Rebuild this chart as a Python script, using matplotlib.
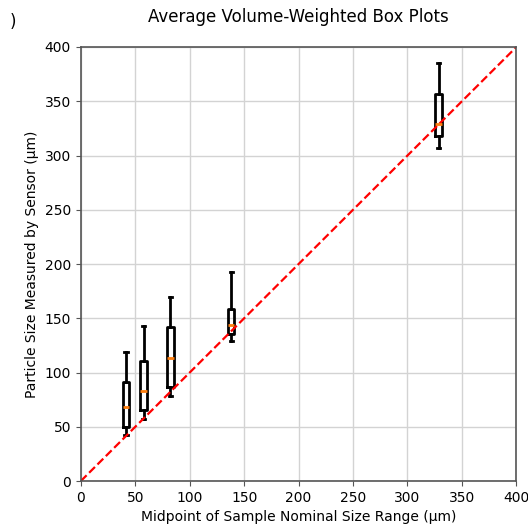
import numpy as np
import matplotlib.pyplot as plt

# midpoints of nominal size ranges (um) and box stats
midpoints = [41.4, 57.6, 82.2, 138.1, 328.7]
whislo = [42.4, 57.0, 78.7, 129.3, 307.0]
q1 = [50.0, 65.4, 87.0, 135.5, 318.0]
med = [68.5, 83.2, 113.0, 143.8, 329.0]
q3 = [91.0, 111.0, 142.2, 158.5, 356.7]
whishi = [119.0, 142.9, 169.3, 193.0, 385.0]

stats = []
for i in range(len(midpoints)):
    stats.append({'whislo': whislo[i], 'q1': q1[i], 'med': med[i],
                  'q3': q3[i], 'whishi': whishi[i], 'fliers': []})

fig = plt.figure(figsize=(5.28, 5.31), dpi=100)
ax = fig.add_axes([0.153, 0.094, 0.825, 0.8175])

ax.bxp(stats, positions=midpoints, widths=6, showfliers=False, manage_ticks=False,
       boxprops=dict(linewidth=2, color='black'),
       whiskerprops=dict(linewidth=2, color='black'),
       capprops=dict(linewidth=2, color='black'),
       medianprops=dict(linewidth=2, color='#ff7f0e'))

ax.plot([0, 400], [0, 400], 'r--', linewidth=1.6)

ax.set_xlim(0, 400)
ax.set_ylim(0, 400)
ax.set_xticks(np.arange(0, 401, 50))
ax.set_yticks(np.arange(0, 401, 50))
ax.grid(True, color='#d3d3d3', linewidth=1.0)
ax.set_axisbelow(True)
for s in ax.spines.values():
    s.set_color('#555555')
    s.set_linewidth(1.2)
ax.tick_params(color='#555555')
ax.set_xlabel('Midpoint of Sample Nominal Size Range (µm)')
ax.set_ylabel('Particle Size Measured by Sensor (µm)')
ax.set_title('Average Volume-Weighted Box Plots', pad=18)
fig.text(0.018, 0.958, ')', fontsize=12, ha='left', va='center')

fig.savefig('out.png', dpi=100)
